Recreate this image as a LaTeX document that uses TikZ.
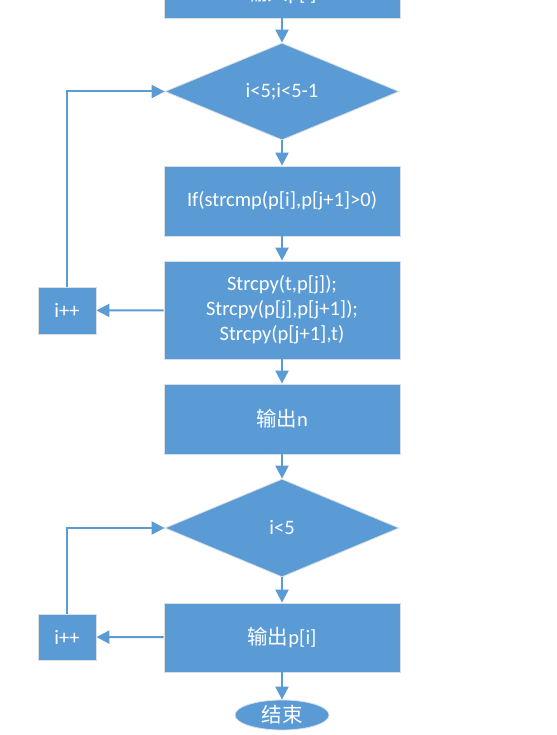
\documentclass[tikz,border=0pt]{standalone}
\usepackage{fontspec}
\setmainfont{Carlito}
\newfontfamily\cjk{Noto Sans CJK SC}
\usetikzlibrary{shapes.geometric,arrows.meta}
\definecolor{flowblue}{HTML}{5B9BD5}
\definecolor{edgegray}{HTML}{D9DEE4}
\tikzset{
  txtfont/.style={font=\fontsize{20.5}{25}\selectfont},
  blk/.style={rectangle, fill=flowblue, draw=edgegray, line width=0.8pt, text=white, align=center, inner sep=0pt, txtfont},
  dec/.style={diamond, fill=flowblue, draw=edgegray, line width=0.8pt, text=white, align=center, inner sep=0pt, txtfont},
  term/.style={ellipse, fill=flowblue, draw=edgegray, line width=0.8pt, text=white, inner sep=0pt, txtfont},
  conn/.style={draw=flowblue, line width=2pt, -{Triangle[length=13pt,width=13pt]}},
}
\begin{document}
\begin{tikzpicture}[x=1pt,y=-1pt]
\useasboundingbox (0,0) rectangle (556,735);
\node[blk, minimum width=236pt, minimum height=70pt] (b0) at (282,-17) {};
\node[text=white, anchor=base, txtfont, inner sep=0pt] (t0) at (282,1) {{\cjk 输入}p[i]};
\node[dec, minimum width=234pt, minimum height=97pt] (d1) at (282,91.5) {\raisebox{-2pt}{i<5;i<5-1}};
\node[blk, minimum width=236pt, minimum height=70pt] (b2) at (282,201) {If(strcmp(p[i],p[j+1]>0)};
\node[blk, minimum width=236pt, minimum height=98pt] (b3) at (282,310) {Strcpy(t,p[j]);\\Strcpy(p[j],p[j+1]);\\Strcpy(p[j+1],t)};
\node[blk, minimum width=58pt, minimum height=47pt] (inc1) at (67,310.5) {i++};
\node[blk, minimum width=236pt, minimum height=70pt] (b4) at (282,419) {{\cjk 输出}n};
\node[dec, minimum width=234pt, minimum height=98pt] (d2) at (282,528) {i<5};
\node[blk, minimum width=236pt, minimum height=69pt] (b5) at (282,637.5) {{\cjk 输出}p[i]};
\node[blk, minimum width=58pt, minimum height=46pt] (inc2) at (67,637) {i++};
\node[term, minimum width=94pt, minimum height=30pt] (e) at (282,715) {\cjk 结束};

\draw[conn] (b0) -- (d1);
\draw[conn] (d1) -- (b2);
\draw[conn] (b2) -- (b3);
\draw[conn] (b3) -- (inc1);
\draw[conn] (inc1.north) |- (d1.west);
\draw[conn] (b3) -- (b4);
\draw[conn] (b4.south) -- (d2.north);
\draw[conn] (d2) -- (b5);
\draw[conn] (b5) -- (inc2);
\draw[conn] (inc2.north) |- (d2.west);
\draw[conn] (b5) -- (e);
\end{tikzpicture}
\end{document}
